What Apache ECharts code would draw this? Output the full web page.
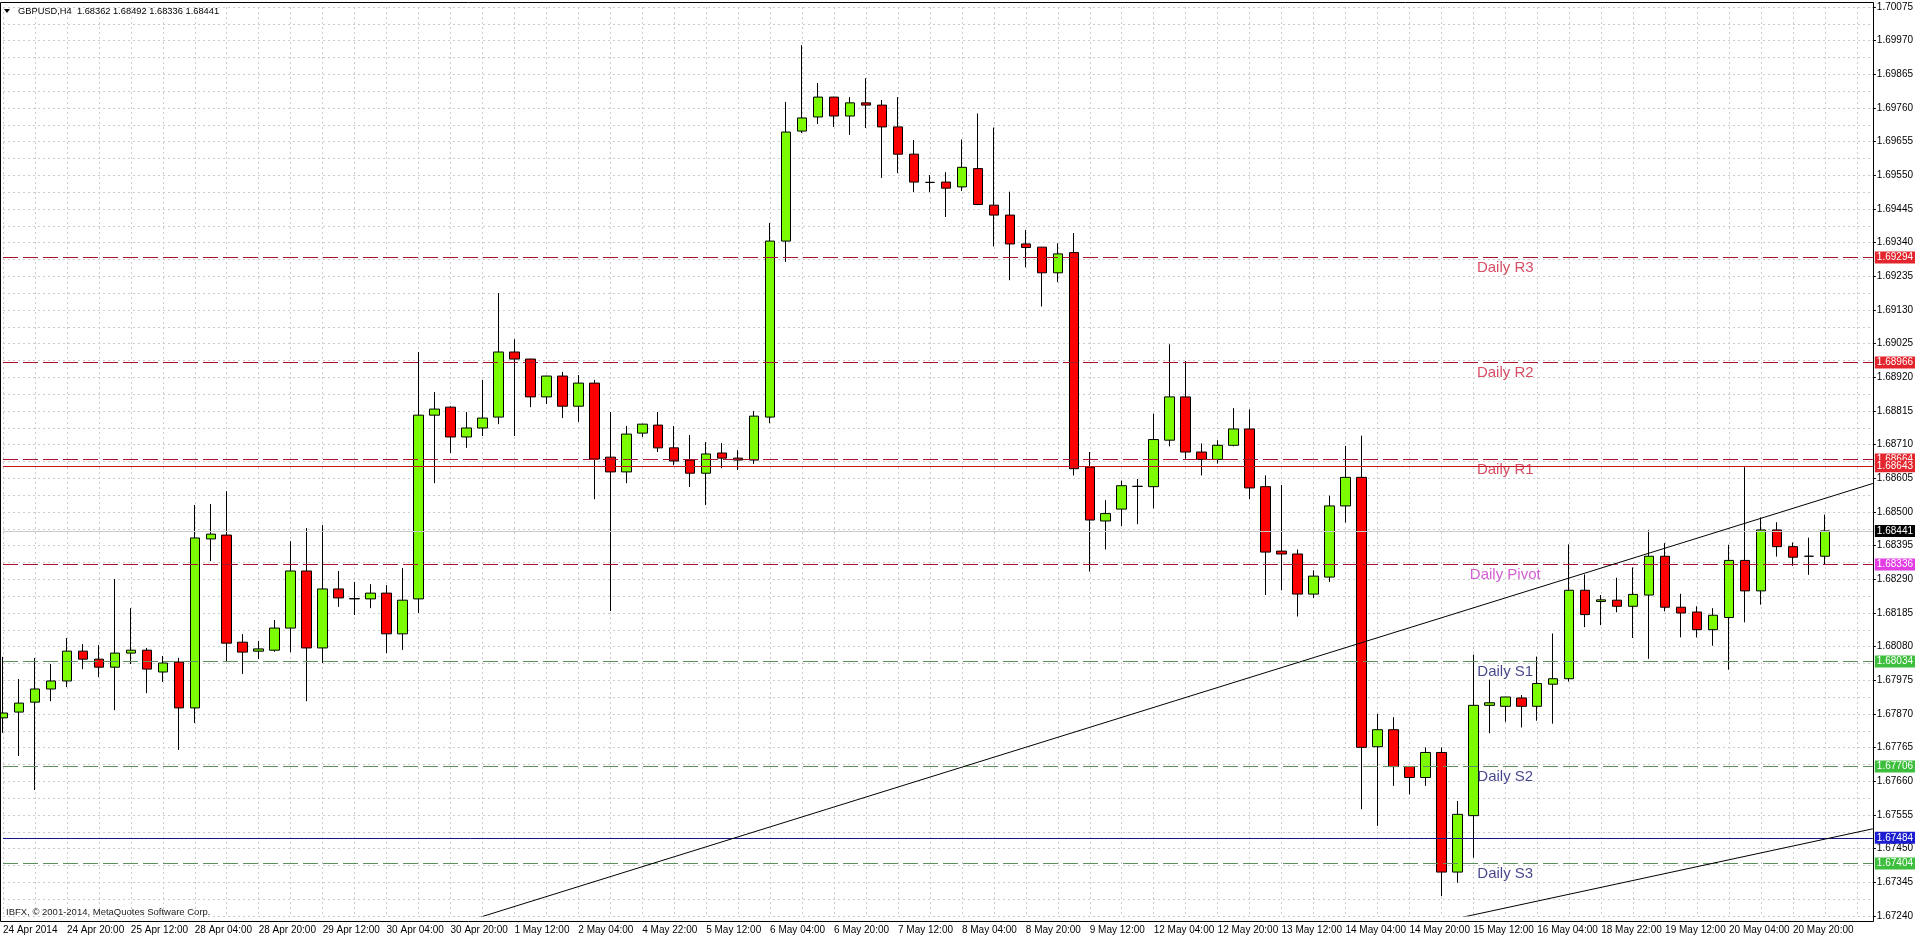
<!DOCTYPE html>
<html><head><meta charset="utf-8">
<script src="https://cdn.jsdelivr.net/npm/echarts@6/dist/echarts.min.js"></script>
<style>html,body{margin:0;padding:0;background:#fff;overflow:hidden}#c{width:1916px;height:939px}</style>
</head><body><div id="c"></div>
<script>
// ---------- data ----------
const symbolTitle = 'GBPUSD,H4';
const lastBarOHLC = ['1.68362', '1.68492', '1.68336', '1.68441'];
const copyright = 'IBFX, \u00a9 2001-2014, MetaQuotes Software Corp.';
const firstAxisLabel = '24 Apr 2014';

const times = [
'24 Apr 04:00','24 Apr 08:00','24 Apr 12:00','24 Apr 16:00','24 Apr 20:00','25 Apr 00:00','25 Apr 04:00','25 Apr 08:00','25 Apr 12:00','25 Apr 16:00',
'27 Apr 22:00','28 Apr 00:00','28 Apr 04:00','28 Apr 08:00','28 Apr 12:00','28 Apr 16:00','28 Apr 20:00','29 Apr 00:00','29 Apr 04:00','29 Apr 08:00',
'29 Apr 12:00','29 Apr 16:00','29 Apr 20:00','30 Apr 00:00','30 Apr 04:00','30 Apr 08:00','30 Apr 12:00','30 Apr 16:00','30 Apr 20:00','1 May 00:00',
'1 May 04:00','1 May 08:00','1 May 12:00','1 May 16:00','1 May 20:00','2 May 00:00','2 May 04:00','2 May 08:00','2 May 12:00','2 May 16:00',
'4 May 22:00','5 May 00:00','5 May 04:00','5 May 08:00','5 May 12:00','5 May 16:00','5 May 20:00','6 May 00:00','6 May 04:00','6 May 08:00',
'6 May 12:00','6 May 16:00','6 May 20:00','7 May 00:00','7 May 04:00','7 May 08:00','7 May 12:00','7 May 16:00','7 May 20:00','8 May 00:00',
'8 May 04:00','8 May 08:00','8 May 12:00','8 May 16:00','8 May 20:00','9 May 00:00','9 May 04:00','9 May 08:00','9 May 12:00','9 May 16:00',
'11 May 22:00','12 May 00:00','12 May 04:00','12 May 08:00','12 May 12:00','12 May 16:00','12 May 20:00','13 May 00:00','13 May 04:00','13 May 08:00',
'13 May 12:00','13 May 16:00','13 May 20:00','14 May 00:00','14 May 04:00','14 May 08:00','14 May 12:00','14 May 16:00','14 May 20:00','15 May 00:00',
'15 May 04:00','15 May 08:00','15 May 12:00','15 May 16:00','15 May 20:00','16 May 00:00','16 May 04:00','16 May 08:00','16 May 12:00','16 May 16:00',
'18 May 22:00','19 May 00:00','19 May 04:00','19 May 08:00','19 May 12:00','19 May 16:00','19 May 20:00','20 May 00:00','20 May 04:00','20 May 08:00',
'20 May 12:00','20 May 16:00','20 May 20:00','21 May 00:00','21 May 04:00'
];
const futureSlots = ['21 May 08:00', '21 May 12:00', '21 May 16:00'];

const open = [
1.67858,1.67876,1.67907,1.67948,1.67973,1.68066,1.68041,1.68016,1.68060,1.68069,
1.68001,1.68032,1.67889,1.68416,1.68428,1.68094,1.68066,1.68069,1.68138,1.68316,
1.68076,1.68260,1.68230,1.68229,1.68247,1.68120,1.68229,1.68802,1.68827,1.68734,
1.68762,1.68796,1.68999,1.68977,1.68859,1.68924,1.68830,1.68902,1.68671,1.68625,
1.68746,1.68771,1.68700,1.68662,1.68621,1.68684,1.68668,1.68662,1.68796,1.69345,
1.69688,1.69732,1.69794,1.69735,1.69776,1.69769,1.69701,1.69616,1.69528,1.69529,
1.69514,1.69571,1.69457,1.69426,1.69336,1.69326,1.69246,1.69309,1.68640,1.68472,
1.68509,1.68580,1.68579,1.68724,1.68859,1.68687,1.68664,1.68708,1.68759,1.68579,
1.68378,1.68369,1.68244,1.68297,1.68519,1.68608,1.67768,1.67821,1.67706,1.67672,
1.67750,1.67377,1.67553,1.67897,1.67894,1.67920,1.67894,1.67963,1.67980,1.68256,
1.68221,1.68225,1.68206,1.68241,1.68362,1.68203,1.68188,1.68133,1.68171,1.68349,
1.68254,1.68444,1.68392,1.68362,1.68362
];
const high = [
1.68048,1.67979,1.68045,1.68026,1.68107,1.68088,1.68085,1.68291,1.68200,1.68076,
1.68051,1.68045,1.68522,1.68525,1.68565,1.68119,1.68098,1.68163,1.68409,1.68450,
1.68459,1.68316,1.68282,1.68275,1.68272,1.68325,1.68999,1.68874,1.68830,1.68812,
1.68912,1.69183,1.69039,1.68978,1.68925,1.68937,1.68927,1.68912,1.68812,1.68768,
1.68775,1.68812,1.68768,1.68740,1.68718,1.68715,1.68693,1.68815,1.69401,1.69779,
1.69956,1.69838,1.69795,1.69794,1.69853,1.69785,1.69794,1.69660,1.69551,1.69560,
1.69662,1.69743,1.69699,1.69499,1.69380,1.69327,1.69338,1.69370,1.68687,1.68537,
1.68598,1.68603,1.68806,1.69023,1.68971,1.68714,1.68724,1.68824,1.68820,1.68614,
1.68584,1.68383,1.68318,1.68551,1.68706,1.68738,1.67870,1.67860,1.67708,1.67766,
1.67766,1.67599,1.68055,1.67977,1.67924,1.67929,1.68049,1.68121,1.68399,1.68305,
1.68241,1.68295,1.68327,1.68443,1.68403,1.68245,1.68206,1.68200,1.68398,1.68640,
1.68483,1.68468,1.68405,1.68420,1.68492
];
const low = [
1.67811,1.67739,1.67633,1.67910,1.67954,1.68010,1.67985,1.67882,1.68026,1.67935,
1.67970,1.67758,1.67842,1.68347,1.68032,1.67995,1.68041,1.68064,1.68063,1.67910,
1.68029,1.68204,1.68179,1.68200,1.68060,1.68070,1.68185,1.68590,1.68684,1.68700,
1.68737,1.68774,1.68737,1.68827,1.68837,1.68793,1.68781,1.68540,1.68191,1.68590,
1.68734,1.68687,1.68646,1.68578,1.68522,1.68637,1.68631,1.68650,1.68777,1.69280,
1.69682,1.69710,1.69701,1.69676,1.69698,1.69542,1.69557,1.69498,1.69498,1.69420,
1.69501,1.69457,1.69328,1.69223,1.69263,1.69141,1.69217,1.68614,1.68314,1.68383,
1.68456,1.68462,1.68511,1.68705,1.68666,1.68614,1.68651,1.68705,1.68540,1.68241,
1.68256,1.68174,1.68232,1.68282,1.68467,1.67573,1.67521,1.67646,1.67619,1.67646,
1.67302,1.67344,1.67422,1.67810,1.67846,1.67828,1.67849,1.67840,1.67971,1.68141,
1.68147,1.68187,1.68107,1.68042,1.68190,1.68109,1.68109,1.68083,1.68008,1.68156,
1.68211,1.68361,1.68332,1.68304,1.68336
];
const close = [
1.67873,1.67904,1.67948,1.67973,1.68066,1.68041,1.68016,1.68060,1.68069,1.68010,
1.68029,1.67889,1.68419,1.68431,1.68091,1.68063,1.68073,1.68138,1.68316,1.68076,
1.68260,1.68232,1.68229,1.68247,1.68120,1.68225,1.68802,1.68821,1.68734,1.68762,
1.68793,1.68999,1.68977,1.68859,1.68924,1.68830,1.68902,1.68665,1.68625,1.68743,
1.68774,1.68700,1.68659,1.68621,1.68681,1.68668,1.68662,1.68799,1.69345,1.69685,
1.69729,1.69794,1.69735,1.69776,1.69769,1.69701,1.69616,1.69529,1.69528,1.69510,
1.69575,1.69459,1.69426,1.69336,1.69325,1.69246,1.69305,1.68635,1.68475,1.68495,
1.68582,1.68580,1.68726,1.68859,1.68687,1.68664,1.68708,1.68759,1.68575,1.68375,
1.68369,1.68244,1.68300,1.68519,1.68608,1.67766,1.67821,1.67706,1.67672,1.67750,
1.67377,1.67557,1.67897,1.67905,1.67923,1.67894,1.67965,1.67980,1.68256,1.68180,
1.68226,1.68206,1.68243,1.68362,1.68203,1.68185,1.68133,1.68178,1.68349,1.68254,
1.68444,1.68392,1.68359,1.68362,1.68441
];

// pivot levels drawn as objects
const pivotNames  = ['Daily R3', 'Daily R2', 'Daily R1', 'Daily Pivot', 'Daily S1', 'Daily S2', 'Daily S3'];
const pivotValues = [1.69294, 1.68966, 1.68664, 1.68336, 1.68034, 1.67706, 1.67404];
const pivotKinds  = ['R', 'R', 'R', 'P', 'S', 'S', 'S'];
const pivotTextBar = 94;   // bar index the texts are anchored to

// other horizontal lines: solid red, solid blue, bid
const redLevel = 1.68643;
const blueLevel = 1.67484;
const bidLevel = 1.68441;

// trend lines [barIndex, price]
const trendLine1 = [[29, 1.67223], [117, 1.68589]];
const trendLine2 = [[90, 1.67222], [117, 1.67512]];

// price axis
const yMin = 1.67240, yMax = 1.70075, yStep = 0.00105;

// ---------- chart ----------
const categories = times.concat(futureSlots);
const ohlc = times.map((t, i) => [open[i], close[i], low[i], high[i]]);

const kindText = {R: '#CC1F3C', P: '#C936C9', S: '#17176E'};
const kindLine = {R: '#A8142C', P: '#A8142C', S: '#5F8F5F'};
const kindBox  = {R: '#E3262E', P: '#E23DE2', S: '#3DBE3D'};

const FONT = 'Liberation Sans, Arial, sans-serif';

function boxLabel(bg, fg) {
  return {show: true, position: 'end', distance: 2, formatter: p => Number(p.value).toFixed(5),
    backgroundColor: bg, color: fg || '#fff', fontSize: 10, fontFamily: FONT,
    padding: [1, 2, 0, 2], lineHeight: 11};
}

const markData = [];
// bid line first so the other lines sit on top of it
markData.push({yAxis: bidLevel, lineStyle: {color: '#C8C8C8', type: 'solid', width: 1}, label: boxLabel('#000000')});
pivotValues.forEach((v, i) => {
  markData.push({yAxis: v, lineStyle: {color: kindLine[pivotKinds[i]], type: [15, 5], width: 1},
    label: boxLabel(kindBox[pivotKinds[i]])});
});
markData.push({yAxis: redLevel, lineStyle: {color: '#C81414', type: 'solid', width: 1}, label: boxLabel('#E3262E')});
markData.push({yAxis: blueLevel, lineStyle: {color: '#14148A', type: 'solid', width: 1}, label: boxLabel('#1C1CD0')});

const chart = echarts.init(document.getElementById('c'), null, {renderer: 'canvas'});
chart.setOption({
  animation: false,
  backgroundColor: '#ffffff',
  grid: {left: 3, right: 1916 - 1873, top: 7, bottom: 939 - 916, containLabel: false, show: false},
  xAxis: {
    type: 'category', data: categories, boundaryGap: false,
    axisLine: {show: false}, axisTick: {show: false},
    axisLabel: {interval: 3, align: 'left', margin: 9, fontSize: 10, fontFamily: FONT, color: '#000',
      formatter: (v, idx) => idx === 0 ? firstAxisLabel : (idx >= times.length ? '' : v)},
    splitLine: {show: true, interval: 1, lineStyle: {color: '#cdcdcd', type: [2, 3], width: 1}}
  },
  yAxis: [{
    type: 'value', position: 'right', min: yMin, max: yMax, interval: yStep, scale: true,
    axisLine: {show: false},
    axisTick: {show: true, length: 3, lineStyle: {color: '#000'}},
    axisLabel: {margin: 4, fontSize: 10, fontFamily: FONT, color: '#000', formatter: v => v.toFixed(5)},
    splitLine: {show: false}
  }, {
    type: 'value', position: 'right', min: yMin, max: yMax, interval: yStep / 2, scale: true,
    axisLine: {show: false}, axisTick: {show: false}, axisLabel: {show: false},
    splitLine: {show: true, lineStyle: {color: '#cdcdcd', type: [2, 3], width: 1}}
  }],
  series: [
    {
      type: 'line', data: [], silent: true, z: 1,
      markLine: {silent: true, precision: 5, symbol: ['none', 'none'], animation: false, data: markData}
    },
    {
      type: 'candlestick', data: ohlc, barWidth: 10, clip: false, z: 3,
      itemStyle: {color: '#7CFC00', color0: '#FF0000', borderColor: '#000', borderColor0: '#000',
        borderColorDoji: '#000', borderWidth: 1}
    },
    {
      type: 'line', data: trendLine1, symbol: 'none', silent: true, z: 5,
      lineStyle: {color: '#000', width: 1}
    },
    {
      type: 'line', data: trendLine2, symbol: 'none', silent: true, z: 5,
      lineStyle: {color: '#000', width: 1}
    },
    {
      type: 'scatter', symbolSize: 1, silent: true, z: 6,
      itemStyle: {color: 'rgba(0,0,0,0)'},
      data: pivotValues.map((v, i) => ({
        value: [pivotTextBar, v], name: pivotNames[i],
        label: {show: true, position: 'bottom', distance: 2, formatter: pivotNames[i],
          fontSize: 15, fontFamily: FONT, color: kindText[pivotKinds[i]]}
      }))
    }
  ],
  graphic: [
    {type: 'rect', silent: true, z: 100,
      shape: {x: 0.5, y: 2.5, width: 1873, height: 919},
      style: {fill: null, stroke: '#000', lineWidth: 1}},
    {type: 'polygon', silent: true, z: 100,
      shape: {points: [[4, 9], [10, 9], [7, 13]]}, style: {fill: '#000'}},
    {type: 'text', silent: true, z: 100, x: 18, y: 11,
      style: {text: symbolTitle + '  ' + lastBarOHLC.join(' '), font: '9.3px ' + FONT, fill: '#000',
        textVerticalAlign: 'middle', verticalAlign: 'middle'}},
    {type: 'text', silent: true, z: 100, x: 6, y: 912,
      style: {text: copyright, font: '9.5px ' + FONT, fill: '#222',
        textVerticalAlign: 'middle', verticalAlign: 'middle'}}
  ]
});
</script>
</body></html>
